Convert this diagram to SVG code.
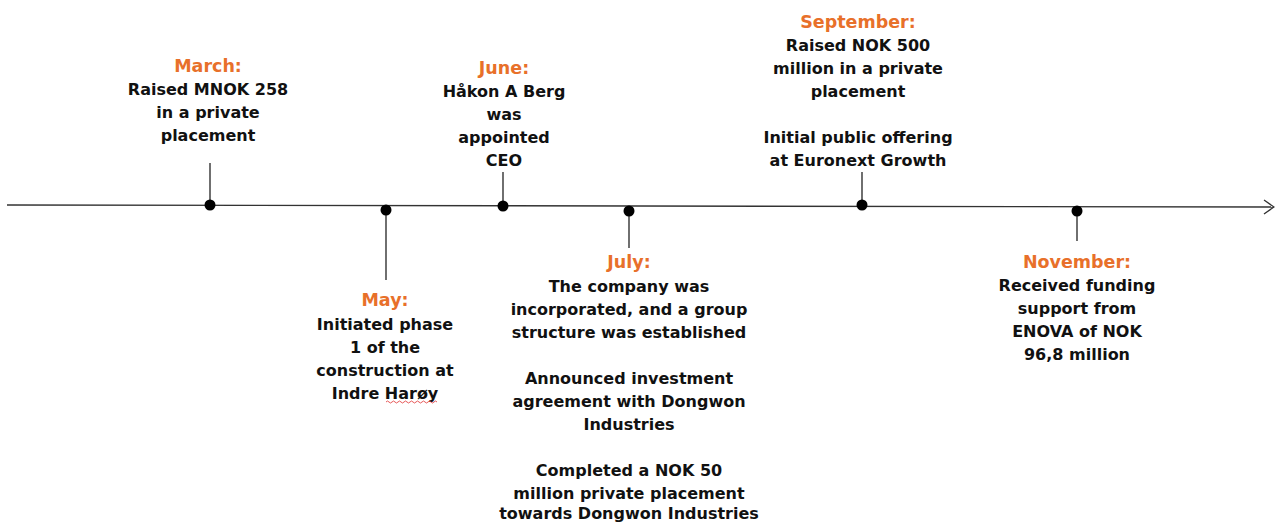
<svg xmlns="http://www.w3.org/2000/svg" width="1275" height="522" viewBox="0 0 1275 522">
  <style>
    .t { font-family: "DejaVu Sans", "Liberation Sans", sans-serif; font-weight: bold; font-size: 16px; fill: #111; text-anchor: middle; }
    .m { fill: #E8702A; font-size: 17.5px; }
    .stem { stroke: #222; stroke-width: 1.3; fill: none; }
    .dot { fill: #000; }
  </style>
  <defs>
    <marker id="open-arrow" viewBox="0 0 12 16" refX="11" refY="8" markerWidth="12" markerHeight="16" markerUnits="userSpaceOnUse" orient="auto">
      <path d="M1,1 L11,8 L1,15" fill="none" stroke="#333" stroke-width="1.3"/>
    </marker>
  </defs>
  <rect width="1275" height="522" fill="#fff"/>

  <!-- timeline axis and the stems from each event dot -->
  <g id="connectors">
    <line x1="7" y1="205" x2="1274" y2="207" stroke="#333" stroke-width="1.4" marker-end="url(#open-arrow)"/>
    <line class="stem" x1="210" y1="163" x2="210" y2="205"/>
    <line class="stem" x1="386" y1="210" x2="386" y2="280"/>
    <line class="stem" x1="503" y1="172" x2="503" y2="206"/>
    <line class="stem" x1="629" y1="211" x2="629" y2="248"/>
    <line class="stem" x1="862" y1="172" x2="862" y2="205"/>
    <line class="stem" x1="1077" y1="211" x2="1077" y2="241"/>
  </g>

  <g id="march">
    <circle class="dot" cx="210" cy="205" r="5.5"/>
    <text class="t"><tspan class="m" x="208" y="72">March:</tspan><tspan x="208" y="95">Raised MNOK 258</tspan><tspan x="208" y="118">in a private</tspan><tspan x="208" y="141">placement</tspan></text>
  </g>

  <g id="may">
    <circle class="dot" cx="386" cy="210" r="5.5"/>
    <text class="t"><tspan class="m" x="385" y="306">May:</tspan><tspan x="385" y="330">Initiated phase</tspan><tspan x="385" y="353">1 of the</tspan><tspan x="385" y="376">construction at</tspan><tspan x="385" y="399">Indre Harøy</tspan></text>
    <!-- spell-check squiggle under the place name -->
    <path d="M386,402 q1.5,-2 3,0 t3,0 t3,0 t3,0 t3,0 t3,0 t3,0 t3,0 t3,0 t3,0 t3,0 t3,0 t3,0 t3,0 t3,0 t3,0 t3,0" fill="none" stroke="#e03030" stroke-width="0.8"/>
  </g>

  <g id="june">
    <circle class="dot" cx="503" cy="206" r="5.5"/>
    <text class="t"><tspan class="m" x="504" y="74">June:</tspan><tspan x="504" y="97">Håkon A Berg</tspan><tspan x="504" y="120">was</tspan><tspan x="504" y="143">appointed</tspan><tspan x="504" y="166">CEO</tspan></text>
  </g>

  <g id="july">
    <circle class="dot" cx="629" cy="211" r="5.5"/>
    <text class="t"><tspan class="m" x="629" y="268">July:</tspan><tspan x="629" y="292">The company was</tspan><tspan x="629" y="315">incorporated, and a group</tspan><tspan x="629" y="338">structure was established</tspan><tspan x="629" y="384">Announced investment</tspan><tspan x="629" y="407">agreement with Dongwon</tspan><tspan x="629" y="430">Industries</tspan><tspan x="629" y="476">Completed a NOK 50</tspan><tspan x="629" y="499">million private placement</tspan><tspan x="629" y="519">towards Dongwon Industries</tspan></text>
  </g>

  <g id="september">
    <circle class="dot" cx="862" cy="205" r="5.5"/>
    <text class="t"><tspan class="m" x="858" y="28">September:</tspan><tspan x="858" y="51">Raised NOK 500</tspan><tspan x="858" y="74">million in a private</tspan><tspan x="858" y="97">placement</tspan><tspan x="858" y="143">Initial public offering</tspan><tspan x="858" y="166">at Euronext Growth</tspan></text>
  </g>

  <g id="november">
    <circle class="dot" cx="1077" cy="211" r="5.5"/>
    <text class="t"><tspan class="m" x="1077" y="268">November:</tspan><tspan x="1077" y="291">Received funding</tspan><tspan x="1077" y="314">support from</tspan><tspan x="1077" y="337">ENOVA of NOK</tspan><tspan x="1077" y="360">96,8 million</tspan></text>
  </g>
</svg>
